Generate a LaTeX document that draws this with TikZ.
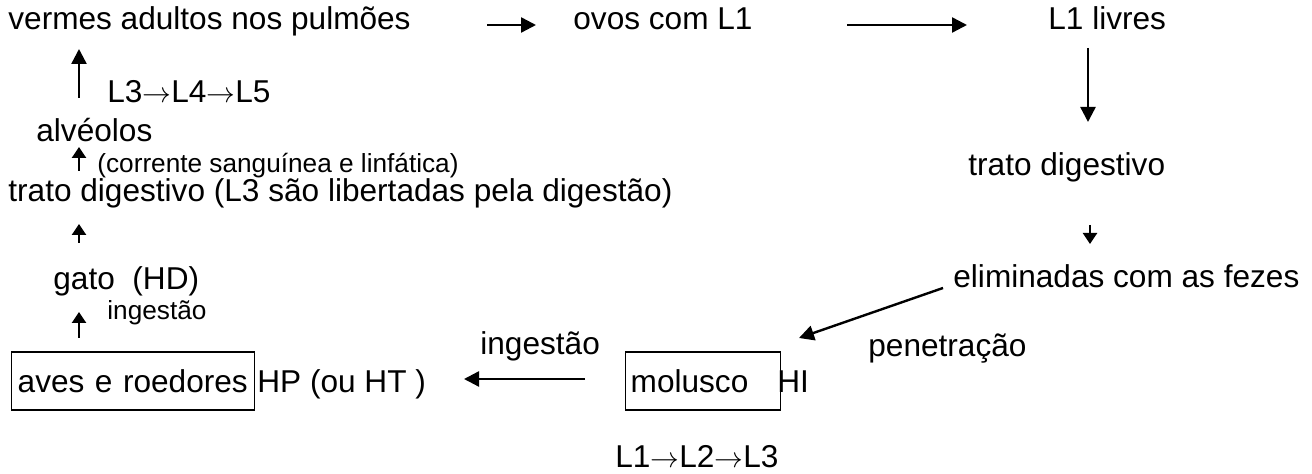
\documentclass[tikz,border=0pt]{standalone}
\usepackage{fontspec}
\setmainfont{Liberation Sans}
\usetikzlibrary{arrows.meta}

\tikzset{
  txt/.style={anchor=base west, inner sep=0pt, font=\fontsize{15.8}{19}\selectfont},
  smalltxt/.style={anchor=base west, inner sep=0pt, font=\fontsize{13.1}{16}\selectfont},
  hostbox/.style={draw, line width=0.7pt, anchor=west, align=left, inner ysep=0pt,
    minimum height=29pt, font=\fontsize{15.8}{19}\selectfont},
  flow/.style={line width=1.2pt, -{Triangle[length=7.5pt,width=7.5pt]}},
  shortflow/.style={line width=1.2pt, -{Triangle[length=5.5pt,width=7pt]}}
}

\begin{document}
\begin{tikzpicture}[x=0.5pt, y=-0.5pt]
\useasboundingbox (0,0) rectangle (1312,474);

% ---------- top row ----------
\node[txt] (vermes) at (8,30) {vermes adultos nos pulm\~oes};
\node[txt] (ovos) at (573,30) {ovos com L1};
\node[txt] (livres) at (1048,30) {L1 livres};

\coordinate (v-o1) at (487,25);
\coordinate (v-o2) at (536,25);
\coordinate (o-l1) at (847,25);
\coordinate (o-l2) at (967,25);
\draw[flow] (v-o1) -- (v-o2);
\draw[flow] (o-l1) -- (o-l2);

% ---------- right column ----------
\node[txt] (tratoR) at (968,176) {trato digestivo};
\node[txt] (fezes) at (953,288) {eliminadas com as fezes};
\node[txt] (penetr) at (868,357) {penetra\c{c}\~ao};

\coordinate (l-t1) at (1088,48);
\coordinate (l-t2) at (1088,122);
\coordinate (t-f1) at (1090,225);
\coordinate (t-f2) at (1090,244);
\coordinate (f-m1) at (943,288);
\coordinate (f-m2) at (799,338);
\draw[flow] (l-t1) -- (l-t2);
\draw[shortflow] (t-f1) -- (t-f2);
\draw[flow] (f-m1) -- (f-m2);

% ---------- bottom row ----------
\node[hostbox, inner xsep=2.5pt, text width=72.5pt] (molusco) at (625,381) {molusco};
\node[txt] (hi) at (777,393) {HI};
\node[txt] (larvasHI) at (615,468) {L1$\rightarrow$L2$\rightarrow$L3};
\node[txt] (ingestM) at (480,355) {ingest\~ao};

\node[hostbox, inner xsep=3pt, text width=115.5pt] (aves) at (11,381) {aves e roedores};
\node[txt] (hp) at (257,393) {HP (ou HT )};

\coordinate (m-a1) at (585,379);
\coordinate (m-a2) at (464,379);
\draw[flow] (m-a1) -- (m-a2);

% ---------- left column ----------
\node[smalltxt] (ingestG) at (107,320) {ingest\~ao};
\node[txt] (gato) at (53,290) {gato\ \ (HD)};
\node[txt] (tratoL) at (8,202) {trato digestivo (L3 s\~ao libertadas pela digest\~ao)};
\node[smalltxt] (corrente) at (97,173) {(corrente sangu\'inea e linf\'atica)};
\node[txt] (alveolos) at (36,142) {alv\'eolos};
\node[txt] (larvasHD) at (107,103) {L3$\rightarrow$L4$\rightarrow$L5};

\coordinate (a-g1) at (79,338);
\coordinate (a-g2) at (79,312);
\coordinate (g-t1) at (79,243);
\coordinate (g-t2) at (79,224);
\coordinate (t-a1) at (79,171);
\coordinate (t-a2) at (79,147);
\coordinate (a-v1) at (79,98);
\coordinate (a-v2) at (79,49);
\draw[shortflow] (a-g1) -- (a-g2);
\draw[shortflow] (g-t1) -- (g-t2);
\draw[shortflow] (t-a1) -- (t-a2);
\draw[flow] (a-v1) -- (a-v2);

\end{tikzpicture}
\end{document}
